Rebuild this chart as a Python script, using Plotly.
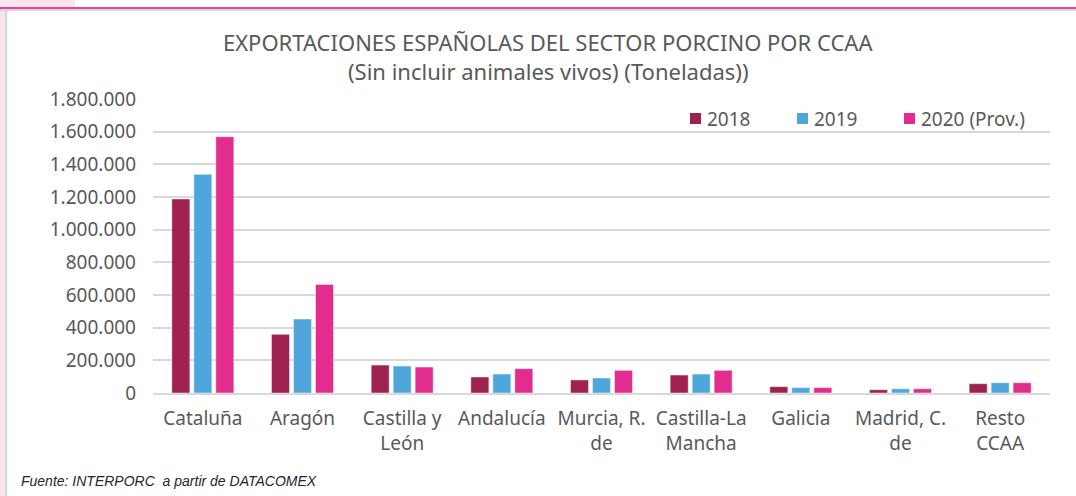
import plotly.graph_objects as go

# Exportaciones del sector porcino por comunidad autónoma (toneladas)
regiones = ["Cataluña", "Aragón", "Castilla y<br>León", "Andalucía", "Murcia, R.<br>de",
            "Castilla-La<br>Mancha", "Galicia", "Madrid, C.<br>de", "Resto<br>CCAA"]
ton_2018 = [1188000, 359000, 171000, 98000, 80000, 110000, 39000, 20000, 57000]
ton_2019 = [1339000, 453000, 165000, 116000, 92000, 116000, 33000, 26000, 63000]
ton_2020 = [1569000, 665000, 159000, 149000, 139000, 139000, 33000, 26000, 63000]
series = [("2018", ton_2018, "#9E2150"), ("2019", ton_2019, "#4FA6DC"),
          ("2020 (Prov.)", ton_2020, "#E22D8F")]
y_ticks = [0, 200000, 400000, 600000, 800000, 1000000, 1200000, 1400000, 1600000, 1800000]

W, H = 1076, 496
L, R, T, B = 153, 26, 99, 103
PW, PH = W - L - R, H - T - B
TXT = "#595959"
FONT = "Noto Sans"


def px(x):
    return (x - L) / PW


def py(y):
    return (H - B - y) / PH


fig = go.Figure()
for name, vals, col in series:
    fig.add_trace(go.Bar(x=regiones, y=vals, name=name, marker_color=col, showlegend=False,
                         marker_line=dict(color="rgba(255,255,255,0.6)", width=0.8)))

shapes = [
    # page decoration around the chart
    dict(type="rect", xref="paper", yref="paper", x0=px(0), x1=px(75), y0=py(0), y1=py(7.5),
         fillcolor="#FCE4EE", line_width=0, layer="below"),
    dict(type="rect", xref="paper", yref="paper", x0=px(0), x1=px(5), y0=py(9), y1=py(H),
         fillcolor="#FBE3EE", line_width=0, layer="below"),
    dict(type="rect", xref="paper", yref="paper", x0=px(5), x1=px(7.3), y0=py(9), y1=py(H),
         fillcolor="#D9D9D9", line_width=0, layer="below"),
    dict(type="rect", xref="paper", yref="paper", x0=px(0), x1=px(W), y0=py(9), y1=py(11),
         fillcolor="#D6D6D6", line_width=0, layer="below"),
    dict(type="rect", xref="paper", yref="paper", x0=px(0), x1=px(W), y0=py(7), y1=py(9),
         fillcolor="#E8439A", line_width=0, layer="below"),
]

annotations = [
    dict(text="EXPORTACIONES ESPAÑOLAS DEL SECTOR PORCINO POR CCAA", xref="paper", yref="paper",
         x=px(548), y=py(42), xanchor="center", yanchor="middle", showarrow=False,
         font=dict(family=FONT, size=22, color=TXT)),
    dict(text="(Sin incluir animales vivos) (Toneladas))", xref="paper", yref="paper",
         x=px(548), y=py(71), xanchor="center", yanchor="middle", showarrow=False,
         font=dict(family=FONT, size=22, color=TXT)),
    dict(text="<i>Fuente: INTERPORC  a partir de DATACOMEX</i>", xref="paper", yref="paper",
         x=px(19), y=py(481), xanchor="left", yanchor="middle", showarrow=False,
         font=dict(family="Liberation Sans", size=14, color="#262626")),
]

# legend drawn as colour squares with labels, top right of the plot area
legend_x = [690, 797, 904]
for (name, _, col), lx in zip(series, legend_x):
    shapes.append(dict(type="rect", xref="paper", yref="paper", x0=px(lx), x1=px(lx + 11),
                       y0=py(124), y1=py(113), fillcolor=col, line_width=0))
    annotations.append(dict(text=name, xref="paper", yref="paper", x=px(lx + 15), y=py(118.5),
                            xanchor="left", yanchor="middle", showarrow=False,
                            font=dict(family=FONT, size=19, color=TXT)))

fig.update_layout(
    width=W, height=H,
    margin=dict(l=L, r=R, t=T, b=B, pad=0),
    paper_bgcolor="white", plot_bgcolor="white",
    separators=",.",
    barmode="group", bargap=0.338, bargroupgap=0.18,
    font=dict(family=FONT, size=19, color=TXT),
    showlegend=False,
    shapes=shapes, annotations=annotations,
)
fig.update_xaxes(showline=True, linecolor="#D9D9D9", linewidth=2, ticks="",
                 ticklabelstandoff=7,
                 tickfont=dict(family=FONT, size=19, color=TXT), fixedrange=True)
fig.update_yaxes(range=[0, 1800000], tickvals=y_ticks, tickformat=",d",
                 showgrid=True, gridcolor="#D9D9D9", gridwidth=1.5, zeroline=False,
                 ticks="", ticklabelstandoff=16,
                 tickfont=dict(family=FONT, size=19, color=TXT), fixedrange=True)

fig.write_html("out.html")
